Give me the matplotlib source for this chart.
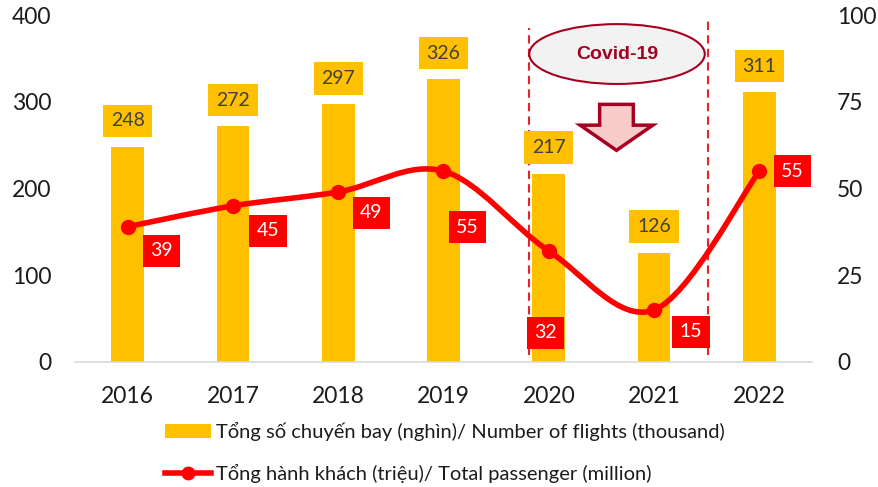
import matplotlib
matplotlib.use("Agg")
import matplotlib.pyplot as plt
import numpy as np
from matplotlib.lines import Line2D
from matplotlib.patches import Ellipse, Patch, PathPatch, Polygon
from matplotlib.path import Path

years = ["2016", "2017", "2018", "2019", "2020", "2021", "2022"]
flights = [248, 272, 297, 326, 217, 126, 311]        # thousand
passengers = [39, 45, 49, 55, 32, 15, 55]            # million

flights_label = "Tổng số chuyến bay (nghìn)/ Number of flights (thousand)"
passengers_label = "Tổng hành khách (triệu)/ Total passenger (million)"

# label offsets for the red passenger labels (pixels, dx, dy)
pass_offsets = [(34, -24), (35, -25), (33, -21), (24, -56), (-3, -82), (37, -22), (33, 0)]

YELLOW = "#FFC000"
RED = "#FF0000"
DARKRED = "#A50021"
TXT = "#1c1c1c"

plt.rcParams["font.family"] = ["Lato", "DejaVu Sans"]

fig = plt.figure(figsize=(8.79, 4.87), dpi=100)
ax = fig.add_axes([75 / 879, 1 - 362 / 487, 737 / 879, 347 / 487])
ax2 = ax.twinx()

x = np.arange(len(years))
ax.bar(x, flights, width=0.31, color=YELLOW, zorder=2)
ax.set_xlim(-0.5, len(years) - 0.5)
ax.set_ylim(0, 400)
ax.set_yticks([0, 100, 200, 300, 400])
ax.set_xticks(x)
ax.set_xticklabels(years)
ax2.set_ylim(0, 100)
ax2.set_yticks([0, 25, 50, 75, 100])

ax.tick_params(axis="y", length=0, labelsize=16.5, colors=TXT, pad=17)
ax.tick_params(axis="x", length=0, labelsize=16.5, colors=TXT, pad=17)
ax2.tick_params(axis="y", length=0, labelsize=16.5, colors=TXT, pad=18)
for a in (ax, ax2):
    for s in a.spines.values():
        s.set_visible(False)
ax.spines["bottom"].set_visible(True)
ax.spines["bottom"].set_color("#D9D9D9")
ax.spines["bottom"].set_linewidth(1.2)

# bar labels
for xi, v in zip(x, flights):
    ax.annotate(str(v), (xi, v), xytext=(0, 26), textcoords="offset pixels",
                ha="center", va="center", fontsize=14, color="#404040", zorder=5,
                bbox=dict(boxstyle="square,pad=0.4", fc=YELLOW, ec="none"))

# smoothed passenger line (Excel-like bezier)
pts = np.column_stack([x, passengers]).astype(float)
n = len(pts)
verts = [tuple(pts[0])]
codes = [Path.MOVETO]
for i in range(n - 1):
    p0 = pts[max(i - 1, 0)]
    p1 = pts[i]
    p2 = pts[i + 1]
    p3 = pts[min(i + 2, n - 1)]
    c1 = p1 + (p2 - p0) / 6
    c2 = p2 - (p3 - p1) / 6
    verts += [tuple(c1), tuple(c2), tuple(p2)]
    codes += [Path.CURVE4] * 3
ax2.add_patch(PathPatch(Path(verts, codes), fc="none", ec=RED, lw=4, zorder=4,
                        capstyle="round"))
ax2.plot(x, passengers, "o", color=RED, ms=10, zorder=5)

for xi, v, off in zip(x, passengers, pass_offsets):
    ax2.annotate(str(v), (xi, v), xytext=(off[0], off[1]), textcoords="offset pixels",
                 ha="center", va="center", fontsize=14, color="white", zorder=6,
                 bbox=dict(boxstyle="square,pad=0.38", fc=RED, ec="none"))

# covid period markers
ax.plot([3.814, 3.814], [8, 385], ls=(0, (4, 2.5)), color="#E8232A", lw=1.5, zorder=3)
ax.plot([5.51, 5.51], [8, 394], ls=(0, (4, 2.5)), color="#E8232A", lw=1.5, zorder=3)

ax.add_patch(Ellipse((4.648, 355), 1.667, 69, fc="#F2F2F2", ec=DARKRED, lw=1.5,
                     zorder=6, clip_on=False))
ax.text(4.648, 355, "Covid-19", ha="center", va="center", fontsize=14,
        fontweight="bold", color=DARKRED, family="Liberation Sans", zorder=7)

cx = 4.643
arrow = [(cx - 0.16, 297), (cx + 0.16, 297), (cx + 0.16, 273), (cx + 0.345, 273),
         (cx, 244), (cx - 0.345, 273), (cx - 0.16, 273)]
ax.add_patch(Polygon(arrow, closed=True, fc="#F8CBCB", ec=DARKRED, lw=2.5,
                     joinstyle="miter", zorder=6))

handles = [Patch(fc=YELLOW, ec="none"),
           Line2D([], [], color=RED, lw=4, marker="o", ms=9)]
fig.legend(handles, [flights_label, passengers_label], loc="upper left",
           bbox_to_anchor=(165 / 879, 1 - 422 / 487), frameon=False, fontsize=14.5,
           handlelength=2.3, handletextpad=0.25, labelspacing=1.15, borderpad=0,
           borderaxespad=0, labelcolor=TXT)

fig.savefig("out.png", dpi=100)
